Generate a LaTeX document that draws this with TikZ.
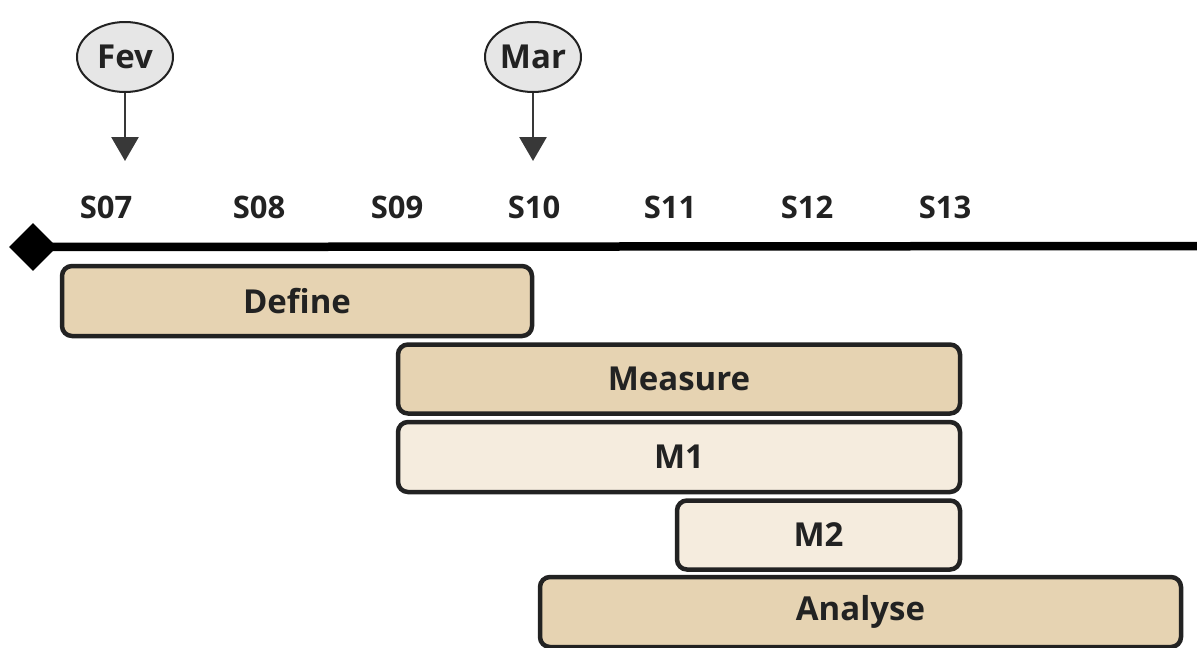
\documentclass[tikz,border=0pt]{standalone}
\usepackage{fontspec}
\setmainfont{Open Sans}
\usetikzlibrary{arrows.meta,shapes.geometric}
\definecolor{ink}{HTML}{222222}
\definecolor{tan}{HTML}{E6D3B2}
\definecolor{cream}{HTML}{F5ECDE}
\definecolor{bubble}{HTML}{E6E6E6}
\tikzset{
  lbl/.style={font=\fontsize{33}{36}\selectfont\bfseries, text=ink},
  week/.style={font=\fontsize{31}{34}\selectfont\bfseries, text=ink},
  month/.style={ellipse, draw=ink, line width=2pt, fill=bubble,
    minimum width=96pt, minimum height=70pt, inner sep=0pt, lbl},
  pointer/.style={draw=ink!90, line width=2.8pt, -{Triangle[width=27pt,length=24pt]}},
  phase/.style={draw=ink, line width=4.5pt, rounded corners=10pt, lbl},
  major/.style={phase, fill=tan},
  minor/.style={phase, fill=cream},
}
\begin{document}
\begin{tikzpicture}[x=1pt,y=-1pt]
\useasboundingbox (0,0) rectangle (1197,648);

% month markers
\node[month] (fev) at (125,57) {Fev};
\node[month] (mar) at (533,57) {Mar};
\coordinate (fevtip) at (125,161);
\coordinate (martip) at (533,161);
\draw[pointer] (fev.south) -- (fevtip);
\draw[pointer] (mar.south) -- (martip);

% week labels
\node[week] (s07) at (106,207) {S07};
\node[week] (s08) at (259,207) {S08};
\node[week] (s09) at (397,207) {S09};
\node[week] (s10) at (534,207) {S10};
\node[week] (s11) at (670,207) {S11};
\node[week] (s12) at (807,207) {S12};
\node[week] (s13) at (945,207) {S13};

% time axis
\node[diamond, fill=black, minimum width=48pt, minimum height=48pt, inner sep=0pt] (start) at (33,247) {};
\coordinate (axisend) at (1197,246);
\draw[line width=8.5pt] (start.center) -- (axisend);

% phases
\node[major, minimum width=470pt, minimum height=70pt] (define) at (297,301) {Define};
\node[major, minimum width=562pt, minimum height=69pt] (measure) at (679,379) {Measure};
\node[minor, minimum width=562pt, minimum height=70pt] (m1) at (679,457) {M1};
\node[minor, minimum width=283pt, minimum height=69pt] (m2) at (818.5,535) {M2};
\node[major, minimum width=641pt, minimum height=70pt] (analyse) at (860.5,612) {Analyse};
\end{tikzpicture}
\end{document}
